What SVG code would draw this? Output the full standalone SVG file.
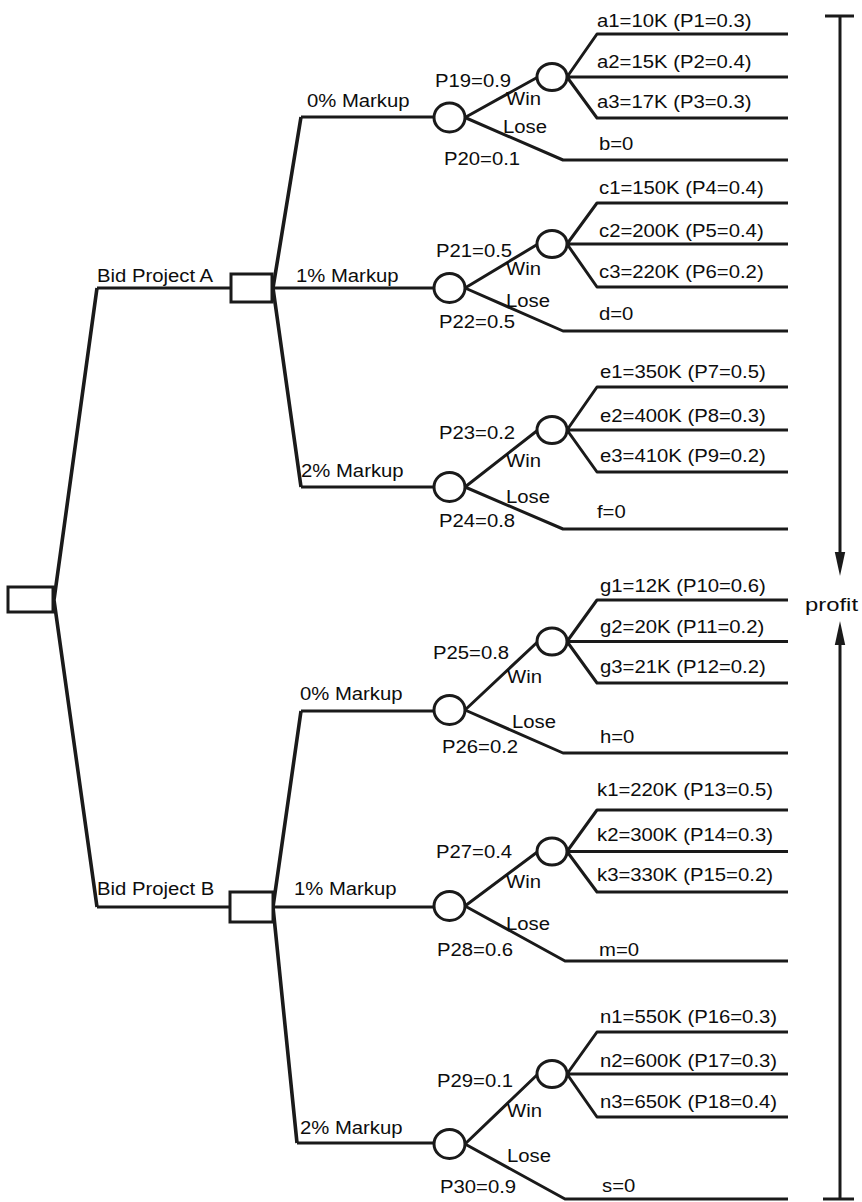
<svg xmlns="http://www.w3.org/2000/svg" width="862" height="1202" viewBox="0 0 862 1202">
<style>
.ln{fill:none;stroke:#1a1a1a;stroke-width:3;stroke-linejoin:round;stroke-linecap:butt}
.tr{stroke-width:3.6}
.nd{fill:#fff;stroke:#1a1a1a;stroke-width:3}
text{font-family:"Liberation Sans",Arial,Helvetica,sans-serif;font-size:17.5px;fill:#0d0d0d;transform-box:fill-box;transform-origin:0 0;transform:scaleX(1.16)}
text.pf{transform:none}
</style>
<defs>
<marker id="ah" markerUnits="userSpaceOnUse" markerWidth="24" markerHeight="12" refX="12" refY="6" orient="auto">
<path d="M0,0.8 L24,6 L0,11.2 z" fill="#1a1a1a"/>
</marker>
</defs>
<rect width="862" height="1202" fill="#fff"/>

<g id="connectors" class="ln">
<path class="ln tr" d="M97,288 L54,600 L97,907"/>
<path class="ln" d="M97,288 H231 M272,288 H434"/>
<path class="ln" d="M97,907 H230 M273,907 H434"/>
<path class="ln tr" d="M301,117 L273,288 L301,487"/>
<path class="ln tr" d="M301,711 L273,907 L297,1143"/>
<path class="ln" d="M301,117 H434 M301,487 H434 M301,711 H434 M297,1143 H434"/>
<!-- A 0% -->
<path class="ln" d="M465,117.5 L538,77 M465,117.5 L563,160 H788 M567,77 L597,34 H788 M567,77 H788 M567,77 L597,118 H788"/>
<!-- A 1% -->
<path class="ln" d="M465,288 L538,244 M465,288 L563,331 H788 M567,244 L597,203 H788 M567,244 H788 M567,244 L597,287 H788"/>
<!-- A 2% -->
<path class="ln" d="M465,487 L538,430 M465,487 L563,529 H788 M567,430 L597,387 H788 M567,430 H788 M567,430 L597,472 H788"/>
<!-- B 0% -->
<path class="ln" d="M465,710 L538,641.5 M465,710 L563,753 H788 M567,641.5 L597,600 H788 M567,641.5 H788 M567,641.5 L597,683 H788"/>
<!-- B 1% -->
<path class="ln" d="M465,906 L538,851.5 M465,906 L565,961 H788 M567,851.5 L597,810 H788 M567,851.5 H788 M567,851.5 L597,892 H788"/>
<!-- B 2% -->
<path class="ln" d="M465,1144 L538,1074 M465,1144 L565,1199 H788 M567,1074 L597,1032 H788 M567,1074 H788 M567,1074 L597,1117 H788"/>
</g>

<g id="root"><rect class="nd" x="8" y="587" width="45" height="25"/></g>
<g id="decisionA"><rect class="nd" x="231" y="274" width="41" height="28"/></g>
<g id="decisionB"><rect class="nd" x="230" y="892" width="43" height="30"/></g>

<g id="chanceA0"><ellipse class="nd" cx="449.5" cy="117.5" rx="15.5" ry="14.5"/></g>
<g id="winA0"><ellipse class="nd" cx="552" cy="77" rx="15" ry="13.5"/></g>
<g id="chanceA1"><ellipse class="nd" cx="449.5" cy="288" rx="15.5" ry="14.5"/></g>
<g id="winA1"><ellipse class="nd" cx="552" cy="244" rx="15" ry="13.5"/></g>
<g id="chanceA2"><ellipse class="nd" cx="449.5" cy="487" rx="15.5" ry="14.5"/></g>
<g id="winA2"><ellipse class="nd" cx="552" cy="430" rx="15" ry="13.5"/></g>
<g id="chanceB0"><ellipse class="nd" cx="449.5" cy="710" rx="15.5" ry="14.5"/></g>
<g id="winB0"><ellipse class="nd" cx="552" cy="641.5" rx="15" ry="13.5"/></g>
<g id="chanceB1"><ellipse class="nd" cx="449.5" cy="906" rx="15.5" ry="14.5"/></g>
<g id="winB1"><ellipse class="nd" cx="552" cy="851.5" rx="15" ry="13.5"/></g>
<g id="chanceB2"><ellipse class="nd" cx="449.5" cy="1144" rx="15.5" ry="14.5"/></g>
<g id="winB2"><ellipse class="nd" cx="552" cy="1074" rx="15" ry="13.5"/></g>

<g id="labels">
<text x="97" y="282">Bid Project A</text>
<text x="97" y="895">Bid Project B</text>
<text x="307" y="107">0% Markup</text>
<text x="296" y="282">1% Markup</text>
<text x="301" y="477">2% Markup</text>
<text x="300" y="700">0% Markup</text>
<text x="294" y="895">1% Markup</text>
<text x="300" y="1134">2% Markup</text>

<text x="435" y="87">P19=0.9</text>
<text x="444" y="165">P20=0.1</text>
<text x="506" y="105">Win</text>
<text x="503" y="133">Lose</text>
<text x="597" y="27">a1=10K (P1=0.3)</text>
<text x="597" y="68">a2=15K (P2=0.4)</text>
<text x="597" y="108">a3=17K (P3=0.3)</text>
<text x="599" y="150">b=0</text>

<text x="436" y="257">P21=0.5</text>
<text x="439" y="328">P22=0.5</text>
<text x="506" y="275">Win</text>
<text x="506" y="307">Lose</text>
<text x="599" y="194">c1=150K (P4=0.4)</text>
<text x="599" y="237">c2=200K (P5=0.4)</text>
<text x="599" y="278">c3=220K (P6=0.2)</text>
<text x="599" y="320">d=0</text>

<text x="439" y="439">P23=0.2</text>
<text x="439" y="527">P24=0.8</text>
<text x="506" y="467">Win</text>
<text x="506" y="503">Lose</text>
<text x="600" y="378">e1=350K (P7=0.5)</text>
<text x="600" y="422">e2=400K (P8=0.3)</text>
<text x="600" y="462">e3=410K (P9=0.2)</text>
<text x="597" y="518">f=0</text>

<text x="433" y="659">P25=0.8</text>
<text x="442" y="753">P26=0.2</text>
<text x="507" y="683">Win</text>
<text x="512" y="728">Lose</text>
<text x="600" y="592">g1=12K (P10=0.6)</text>
<text x="600" y="633">g2=20K (P11=0.2)</text>
<text x="600" y="673">g3=21K (P12=0.2)</text>
<text x="600" y="743">h=0</text>

<text x="436" y="858">P27=0.4</text>
<text x="437" y="956">P28=0.6</text>
<text x="506" y="888">Win</text>
<text x="506" y="930">Lose</text>
<text x="597" y="796">k1=220K (P13=0.5)</text>
<text x="597" y="841">k2=300K (P14=0.3)</text>
<text x="597" y="881">k3=330K (P15=0.2)</text>
<text x="599" y="956">m=0</text>

<text x="437" y="1087">P29=0.1</text>
<text x="440" y="1193">P30=0.9</text>
<text x="507" y="1117">Win</text>
<text x="507" y="1162">Lose</text>
<text x="600" y="1023">n1=550K (P16=0.3)</text>
<text x="600" y="1067">n2=600K (P17=0.3)</text>
<text x="600" y="1108">n3=650K (P18=0.4)</text>
<text x="602" y="1192">s=0</text>
</g>

<g id="profit">
<path class="ln" d="M825,16 H854 M840,16 V564" marker-end="url(#ah)"/>
<path class="ln" d="M840,1199 V633" marker-end="url(#ah)"/>
<path class="ln" d="M823,1199 H854"/>
<text class="pf" x="805" y="611" font-size="18" textLength="53" lengthAdjust="spacingAndGlyphs">profit</text>
</g>
</svg>
